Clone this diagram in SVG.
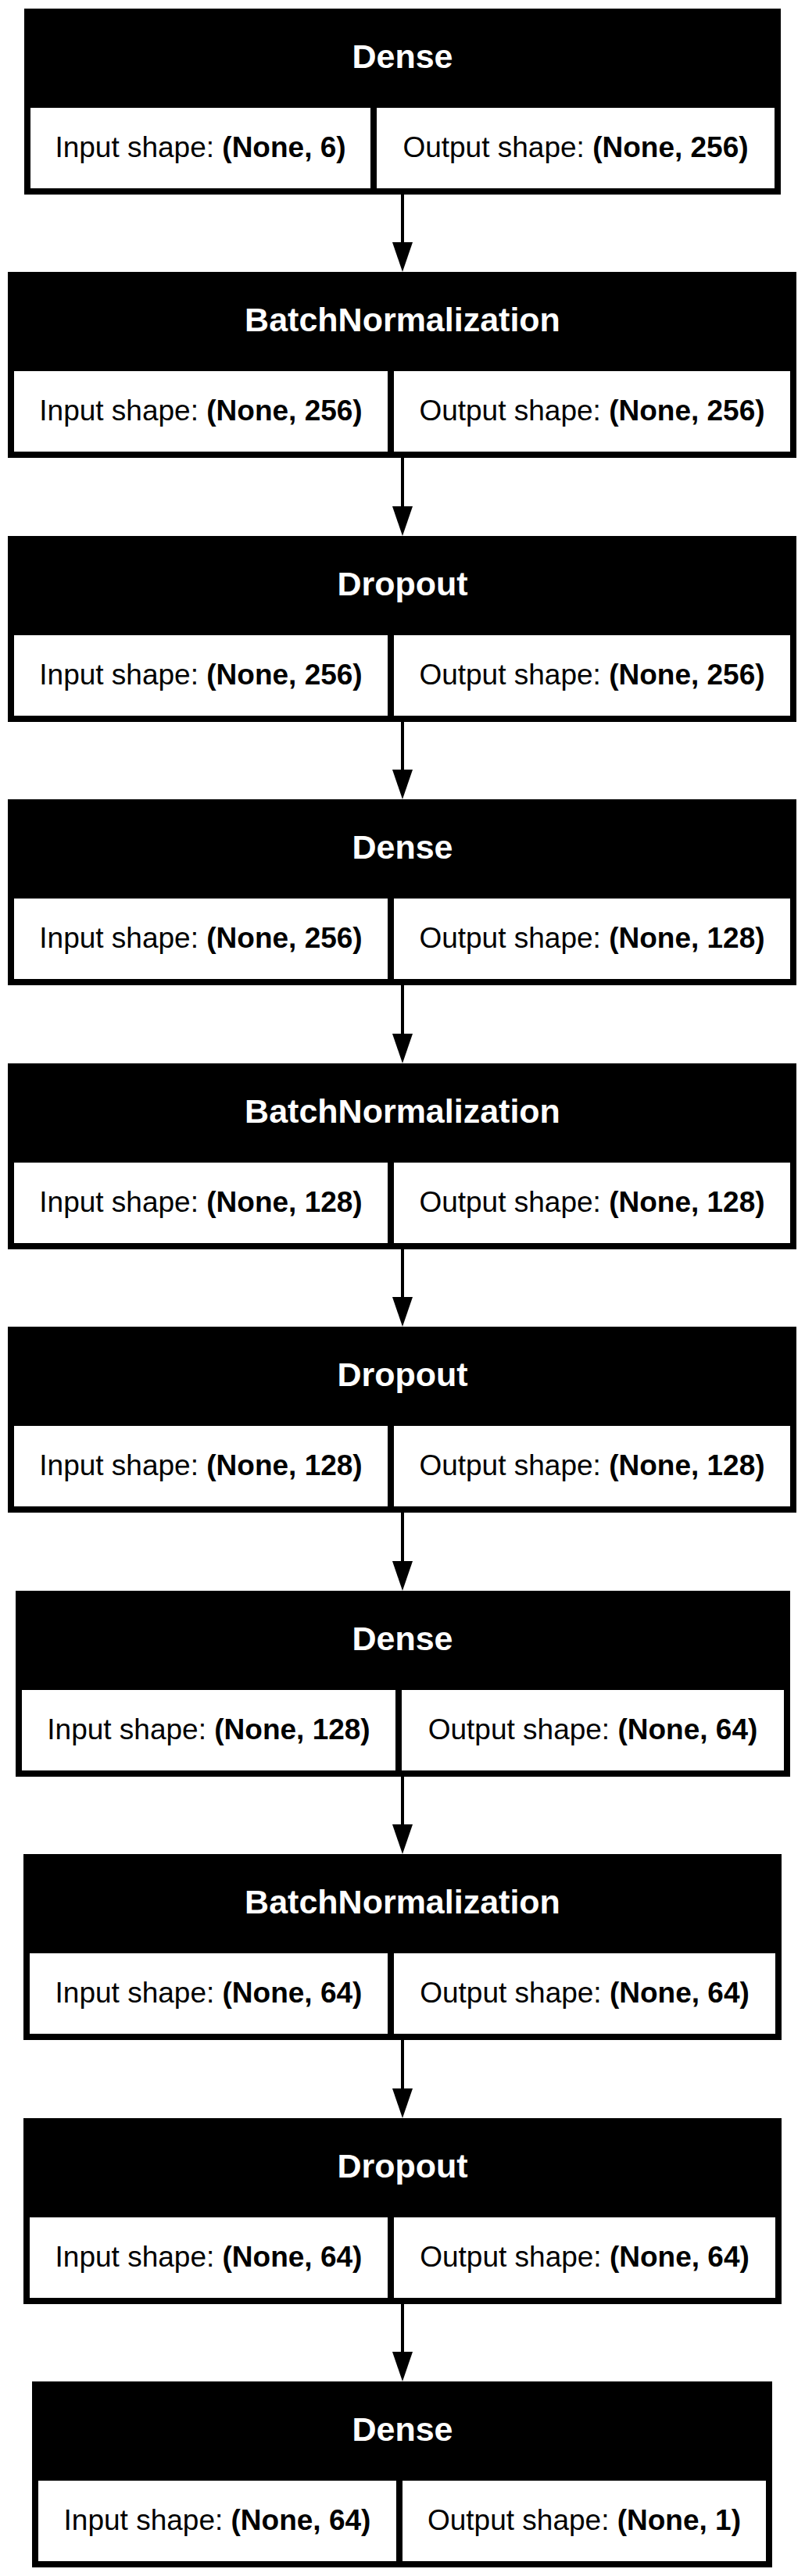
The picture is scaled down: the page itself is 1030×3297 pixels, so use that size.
<svg xmlns="http://www.w3.org/2000/svg" width="1030" height="3297" viewBox="0 0 1030 3297">
<style>
.frame{fill:#000}
.cell{fill:#fff}
.title{font-family:"Liberation Sans",Arial,sans-serif;font-weight:bold;font-size:43px;fill:#fff;text-anchor:middle}
.body{font-family:"Liberation Sans",Arial,sans-serif;font-size:37px;fill:#000;text-anchor:middle}
.b{font-weight:bold}
.edge{stroke:#000;stroke-width:4;fill:none}
</style>
<defs>
<marker id="arr" markerUnits="userSpaceOnUse" viewBox="0 -13 38 26" markerWidth="38" markerHeight="26" refX="0" refY="0" orient="auto">
<path d="M0,-13 L38,0 L0,13 z" fill="#000"/>
</marker>
</defs>
<rect width="1030" height="3297" fill="#fff"/>

<g id="node1">
<rect class="frame" x="31" y="11" width="968" height="238"/>
<rect class="cell" x="39" y="138" width="435" height="103"/>
<rect class="cell" x="482" y="138" width="509" height="103"/>
<text class="title" x="515" y="87">Dense</text>
<text class="body" x="256.5" y="201">Input shape: <tspan class="b">(None, 6)</tspan></text>
<text class="body" x="736.5" y="201">Output shape: <tspan class="b">(None, 256)</tspan></text>
</g>

<g id="node2">
<rect class="frame" x="10" y="348" width="1009" height="238"/>
<rect class="cell" x="18" y="475" width="478" height="103"/>
<rect class="cell" x="504" y="475" width="507" height="103"/>
<text class="title" x="515" y="424">BatchNormalization</text>
<text class="body" x="257" y="538">Input shape: <tspan class="b">(None, 256)</tspan></text>
<text class="body" x="757.5" y="538">Output shape: <tspan class="b">(None, 256)</tspan></text>
</g>

<g id="node3">
<rect class="frame" x="10" y="686" width="1009" height="238"/>
<rect class="cell" x="18" y="813" width="478" height="103"/>
<rect class="cell" x="504" y="813" width="507" height="103"/>
<text class="title" x="515" y="762">Dropout</text>
<text class="body" x="257" y="876">Input shape: <tspan class="b">(None, 256)</tspan></text>
<text class="body" x="757.5" y="876">Output shape: <tspan class="b">(None, 256)</tspan></text>
</g>

<g id="node4">
<rect class="frame" x="10" y="1023" width="1009" height="238"/>
<rect class="cell" x="18" y="1150" width="478" height="103"/>
<rect class="cell" x="504" y="1150" width="507" height="103"/>
<text class="title" x="515" y="1099">Dense</text>
<text class="body" x="257" y="1213">Input shape: <tspan class="b">(None, 256)</tspan></text>
<text class="body" x="757.5" y="1213">Output shape: <tspan class="b">(None, 128)</tspan></text>
</g>

<g id="node5">
<rect class="frame" x="10" y="1361" width="1009" height="238"/>
<rect class="cell" x="18" y="1488" width="478" height="103"/>
<rect class="cell" x="504" y="1488" width="507" height="103"/>
<text class="title" x="515" y="1437">BatchNormalization</text>
<text class="body" x="257" y="1551">Input shape: <tspan class="b">(None, 128)</tspan></text>
<text class="body" x="757.5" y="1551">Output shape: <tspan class="b">(None, 128)</tspan></text>
</g>

<g id="node6">
<rect class="frame" x="10" y="1698" width="1009" height="238"/>
<rect class="cell" x="18" y="1825" width="478" height="103"/>
<rect class="cell" x="504" y="1825" width="507" height="103"/>
<text class="title" x="515" y="1774">Dropout</text>
<text class="body" x="257" y="1888">Input shape: <tspan class="b">(None, 128)</tspan></text>
<text class="body" x="757.5" y="1888">Output shape: <tspan class="b">(None, 128)</tspan></text>
</g>

<g id="node7">
<rect class="frame" x="20" y="2036" width="991" height="238"/>
<rect class="cell" x="28" y="2163" width="478" height="103"/>
<rect class="cell" x="514" y="2163" width="489" height="103"/>
<text class="title" x="515" y="2112">Dense</text>
<text class="body" x="267" y="2226">Input shape: <tspan class="b">(None, 128)</tspan></text>
<text class="body" x="758.5" y="2226">Output shape: <tspan class="b">(None, 64)</tspan></text>
</g>

<g id="node8">
<rect class="frame" x="30" y="2373" width="970" height="238"/>
<rect class="cell" x="38" y="2500" width="458" height="103"/>
<rect class="cell" x="504" y="2500" width="488" height="103"/>
<text class="title" x="515" y="2449">BatchNormalization</text>
<text class="body" x="267" y="2563">Input shape: <tspan class="b">(None, 64)</tspan></text>
<text class="body" x="748" y="2563">Output shape: <tspan class="b">(None, 64)</tspan></text>
</g>

<g id="node9">
<rect class="frame" x="30" y="2711" width="970" height="238"/>
<rect class="cell" x="38" y="2838" width="458" height="103"/>
<rect class="cell" x="504" y="2838" width="488" height="103"/>
<text class="title" x="515" y="2787">Dropout</text>
<text class="body" x="267" y="2901">Input shape: <tspan class="b">(None, 64)</tspan></text>
<text class="body" x="748" y="2901">Output shape: <tspan class="b">(None, 64)</tspan></text>
</g>

<g id="node10">
<rect class="frame" x="41" y="3048" width="947" height="238"/>
<rect class="cell" x="49" y="3175" width="458" height="103"/>
<rect class="cell" x="515" y="3175" width="465" height="103"/>
<text class="title" x="515" y="3124">Dense</text>
<text class="body" x="278" y="3238">Input shape: <tspan class="b">(None, 64)</tspan></text>
<text class="body" x="747.5" y="3238">Output shape: <tspan class="b">(None, 1)</tspan></text>
</g>

<g id="connectors">
<line class="edge" x1="515" y1="249" x2="515" y2="310" marker-end="url(#arr)"/>
<line class="edge" x1="515" y1="586" x2="515" y2="648" marker-end="url(#arr)"/>
<line class="edge" x1="515" y1="924" x2="515" y2="985" marker-end="url(#arr)"/>
<line class="edge" x1="515" y1="1261" x2="515" y2="1323" marker-end="url(#arr)"/>
<line class="edge" x1="515" y1="1599" x2="515" y2="1660" marker-end="url(#arr)"/>
<line class="edge" x1="515" y1="1936" x2="515" y2="1998" marker-end="url(#arr)"/>
<line class="edge" x1="515" y1="2274" x2="515" y2="2335" marker-end="url(#arr)"/>
<line class="edge" x1="515" y1="2611" x2="515" y2="2673" marker-end="url(#arr)"/>
<line class="edge" x1="515" y1="2949" x2="515" y2="3010" marker-end="url(#arr)"/>
</g>
</svg>
